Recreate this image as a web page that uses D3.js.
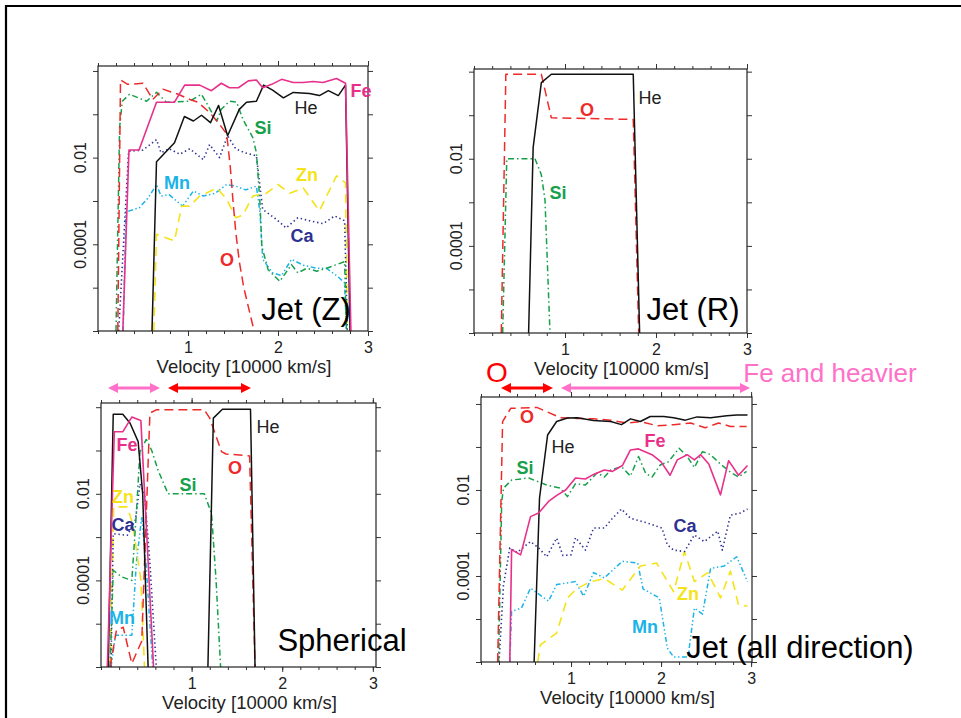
<!DOCTYPE html>
<html><head><meta charset="utf-8">
<script src="https://cdn.jsdelivr.net/npm/d3@7"></script>
<style>
body{margin:0;background:#fff}
svg{display:block;font-family:"Liberation Sans",Arial,Helvetica,sans-serif}
</style>
</head><body>
<svg id="chart" width="961" height="718"></svg>
<script>
// Mass fraction vs velocity, [velocity (10^4 km/s), mass fraction]; null breaks a line.

// --- Jet (Z) ---
const jetZ_He = [[0.60,1e-6],[0.65,0.008],[0.85,0.022],[0.96,0.089],[1.06,0.07],[1.15,0.095],[1.25,0.064],[1.34,0.16],[1.44,0.032],[1.57,0.13],[1.65,0.19],[1.76,0.2],[1.84,0.47],[1.94,0.36],[2.06,0.24],[2.17,0.32],[2.35,0.3],[2.46,0.27],[2.56,0.35],[2.67,0.27],[2.75,0.47],[2.80,1e-6]];
const jetZ_Fe = [[0.276,1e-6],[0.344,0.015],[0.456,0.015],[0.65,0.19],[0.85,0.19],[0.963,0.47],[1.13,0.47],[1.26,0.35],[1.37,0.52],[1.46,0.41],[1.56,0.41],[1.67,0.59],[1.76,0.62],[1.83,0.41],[1.93,0.49],[2.04,0.64],[2.17,0.54],[2.28,0.54],[2.39,0.57],[2.5,0.54],[2.65,0.67],[2.75,0.52],[2.81,1e-6]];
const jetZ_O  = [[0.22,1e-6],[0.25,0.62],[0.33,0.49],[0.5,0.52],[0.61,0.22],[0.72,0.38],[0.89,0.29],[1.02,0.22],[1.11,0.19],[1.24,0.11],[1.35,0.059],[1.43,0.035],[1.47,0.006],[1.5,0.001],[1.53,2e-4],[1.57,4e-5],[1.62,1e-5],[1.68,3e-6],[1.73,1.1e-6]];
const jetZ_Si = [[0.2,1e-6],[0.24,0.05],[0.27,0.2],[0.35,0.29],[0.54,0.2],[0.65,0.32],[0.76,0.19],[1.02,0.2],[1.15,0.29],[1.32,0.07],[1.37,0.13],[1.46,0.2],[1.54,0.19],[1.61,0.077],[1.72,0.029],[1.76,0.013],[1.8,9e-4],[1.82,9e-5],[1.89,2.6e-5],[2.02,1.4e-5],[2.15,3.4e-5],[2.22,2.2e-5],[2.32,2.8e-5],[2.43,2.4e-5],[2.54,2.8e-5],[2.65,3.4e-5],[2.74,4e-5],[2.76,1e-6]];
const jetZ_Ca = [[0.23,1e-6],[0.34,0.014],[0.5,0.015],[0.65,0.026],[0.7,0.013],[0.79,0.016],[0.91,0.012],[1.02,0.016],[1.17,0.009],[1.24,0.02],[1.35,0.01],[1.44,0.032],[1.53,0.016],[1.63,0.013],[1.76,0.011],[1.83,6.4e-4],[1.98,3.8e-4],[2.09,2.4e-4],[2.22,4.1e-4],[2.35,3.5e-4],[2.5,3e-4],[2.63,4.5e-4],[2.74,3.5e-4],[2.77,1e-6]];
const jetZ_Mn = [[0.28,1e-6],[0.31,5.9e-4],[0.35,5.9e-4],[0.46,7e-4],[0.56,1.2e-3],[0.65,2.4e-3],[0.7,1.3e-3],[0.79,1.4e-3],[0.94,7.6e-4],[1.06,1.7e-3],[1.17,1.3e-3],[1.3,1.5e-3],[1.43,2.4e-3],[1.53,2.2e-3],[1.64,1.8e-3],[1.76,2.2e-3],[1.8,5.4e-4],[1.83,4.5e-5],[1.94,2.2e-5],[2.04,1.9e-5],[2.15,4.5e-5],[2.28,3.3e-5],[2.43,2.8e-5],[2.54,2.8e-5],[2.65,1.9e-5],[2.74,1.3e-5],[2.76,1e-6]];
const jetZ_Zn = [[0.62,1e-6],[0.65,1.7e-4],[0.85,1.2e-4],[0.93,7.6e-4],[1.02,7.6e-4],[1.13,1.3e-3],[1.2,1.5e-3],[1.32,2e-3],[1.43,1.1e-3],[1.53,4.1e-4],[1.61,4.7e-4],[1.72,1.3e-3],[1.87,1.5e-3],[2.0,2.4e-3],[2.13,1.5e-3],[2.28,2e-3],[2.46,5.9e-4],[2.65,3.8e-3],[2.75,2.6e-3],[2.77,1e-6]];

// --- Jet (R) ---
const jetR_He = [[0.6,1e-6],[0.65,0.018],[0.74,0.56],[0.85,0.87],[1.75,0.87],[1.82,1e-6]];
const jetR_O  = [[0.30,1e-6],[0.35,0.87],[0.74,0.87],[0.85,0.087],[1.75,0.08],[1.81,1e-6]];
const jetR_Si = [[0.315,1e-6],[0.36,0.01],[0.67,0.01],[0.74,0.0043],[0.78,0.00115],[0.805,4.9e-5],[0.835,1e-6]];

// --- Spherical ---
const sph_He = [[0.08,1e-6],[0.135,0.69],[0.24,0.69],[0.32,0.43],[0.41,0.16],[0.46,0.01],[0.52,1e-6],null,[1.18,1e-6],[1.24,0.56],[1.34,0.9],[1.65,0.9],[1.7,1e-6]];
const sph_Fe = [[0.07,1e-6],[0.147,0.27],[0.24,0.27],[0.34,0.59],[0.44,0.49],[0.58,1e-6]];
const sph_O  = [[0.1,1e-6],[0.17,7e-6],[0.245,8.3e-6],[0.34,1.2e-6],[0.45,4e-6],[0.5,3.5e-3],[0.54,0.73],[0.61,0.87],[1.14,0.87],[1.2,0.56],[1.33,0.094],[1.38,0.083],[1.64,0.075],[1.7,1e-6]];
const sph_Si = [[0.1,1e-6],[0.135,1.7e-4],[0.23,1.2e-4],[0.34,1e-4],[0.39,3.5e-3],[0.43,0.094],[0.5,0.18],[0.56,0.1],[0.63,0.035],[0.74,0.01],[1.14,0.01],[1.22,3.5e-3],[1.27,1e-4],[1.32,1e-6]];
const sph_Ca = [[0.11,1e-6],[0.135,1.2e-3],[0.29,1.1e-3],[0.38,2.5e-3],[0.43,0.017],[0.48,0.01],[0.54,2.5e-4],[0.61,1e-6]];
const sph_Zn = [[0.1,1e-6],[0.14,5e-3],[0.29,5e-3],[0.35,2e-3],[0.44,1e-4],[0.48,1e-6]];
const sph_Mn = [[0.11,1e-6],[0.16,5.4e-6],[0.34,5.4e-6],[0.39,2.5e-4],[0.45,3e-3],[0.5,2e-4],[0.57,1e-6]];

// --- Jet (all direction) ---
const jetAll_He = [[0.59,1e-6],[0.65,0.0065],[0.74,0.19],[0.84,0.39],[0.96,0.47],[1.07,0.48],[1.25,0.41],[1.44,0.39],[1.56,0.33],[1.66,0.45],[1.77,0.39],[1.88,0.51],[2.03,0.51],[2.14,0.48],[2.27,0.42],[2.4,0.5],[2.55,0.48],[2.73,0.53],[2.84,0.55],[2.96,0.55]];
const jetAll_O  = [[0.185,1e-6],[0.24,0.39],[0.33,0.79],[0.62,0.83],[0.73,0.66],[0.88,0.48],[1.07,0.46],[1.25,0.45],[1.44,0.42],[1.62,0.36],[1.77,0.39],[1.96,0.31],[2.14,0.33],[2.33,0.36],[2.49,0.28],[2.64,0.36],[2.77,0.3],[2.95,0.3]];
const jetAll_Si = [[0.195,1e-6],[0.23,0.0054],[0.25,0.011],[0.34,0.017],[0.53,0.019],[0.73,0.013],[0.88,0.011],[0.96,0.007],[1.05,0.014],[1.16,0.013],[1.29,0.025],[1.37,0.02],[1.44,0.029],[1.56,0.035],[1.66,0.021],[1.75,0.06],[1.83,0.024],[1.9,0.02],[1.99,0.038],[2.08,0.045],[2.2,0.093],[2.29,0.06],[2.37,0.033],[2.46,0.078],[2.55,0.066],[2.66,0.04],[2.77,0.026],[2.86,0.02],[2.95,0.027]];
const jetAll_Fe = [[0.32,1e-6],[0.34,4.1e-4],[0.44,3.1e-4],[0.55,0.0024],[0.64,0.0029],[0.75,0.0054],[0.85,0.0077],[0.94,0.01],[1.05,0.019],[1.16,0.018],[1.25,0.023],[1.37,0.029],[1.46,0.027],[1.57,0.037],[1.66,0.085],[1.75,0.09],[1.9,0.066],[2.0,0.045],[2.1,0.022],[2.18,0.05],[2.29,0.066],[2.37,0.05],[2.44,0.066],[2.53,0.04],[2.66,0.0077],[2.75,0.048],[2.86,0.022],[2.96,0.037]];
const jetAll_Ca = [[0.2,1e-6],[0.25,6.2e-5],[0.32,4.5e-4],[0.4,3.5e-4],[0.55,6.3e-4],[0.64,4.5e-4],[0.73,2.8e-4],[0.84,7.6e-4],[0.91,3e-4],[1.0,3.1e-4],[1.05,7.8e-4],[1.16,4e-4],[1.25,1.3e-3],[1.37,1.3e-3],[1.46,2.2e-3],[1.56,3.6e-3],[1.66,2.2e-3],[1.85,1.7e-3],[2.01,1.3e-3],[2.07,5.3e-4],[2.14,4e-4],[2.26,3.7e-4],[2.37,9e-4],[2.48,6.3e-4],[2.63,1.1e-3],[2.68,4e-4],[2.77,2.6e-3],[2.88,2.9e-3],[2.96,3.6e-3]];
const jetAll_Mn = [[0.32,1e-6],[0.34,1.5e-5],[0.45,1.8e-5],[0.55,5.2e-5],[0.75,2.6e-5],[0.84,6.3e-5],[1.05,7.4e-5],[1.14,3.4e-5],[1.25,1.2e-4],[1.37,9e-5],[1.57,2.2e-4],[1.74,2e-4],[1.8,5e-5],[1.98,3.1e-5],[2.07,2.1e-6],[2.14,1.3e-6],[2.3,1.3e-6],[2.37,1.8e-5],[2.46,1.3e-5],[2.55,1.5e-4],[2.7,1.7e-4],[2.84,2.8e-4],[2.96,7.4e-5]];
const jetAll_Zn = [[0.63,1e-6],[0.66,2.5e-6],[0.84,4.7e-6],[0.96,3.1e-5],[1.07,5.2e-5],[1.22,7.4e-5],[1.37,8.7e-5],[1.57,4.7e-5],[1.77,1.7e-4],[1.95,2e-4],[2.14,4.3e-5],[2.26,3.7e-4],[2.37,7.4e-5],[2.52,1.2e-4],[2.66,3.1e-5],[2.77,1.3e-4],[2.86,2.1e-5],[2.96,2e-5]];

// Axis ticks
const yTickValues = [1, 0.1, 0.01, 0.001, 1e-4, 1e-5, 1e-6];
const yTickLabels = {"0.01": "0.01", "0.0001": "0.0001"};
const xMajorTicks = [1, 2, 3];
const xMinorTicks = d3.range(0, 16).map(i => +(i * 0.2).toFixed(1));
const xTitle = "Velocity [10000 km/s]";

// Line styles per element
const style = {
  He: {color: "#111111", dash: null, w: 1.5},
  O:  {color: "#ee2b2b", dash: "9,5", w: 1.5},
  Si: {color: "#16a04b", dash: "6,3,1.5,3", w: 1.5},
  Ca: {color: "#2e3192", dash: "1.4,2.8", w: 1.6},
  Mn: {color: "#1ab4e8", dash: "5,2.5,1.4,2.5,1.4,2.5", w: 1.5},
  Zn: {color: "#f5e31a", dash: "9,6", w: 1.6},
  Fe: {color: "#e8308a", dash: null, w: 1.6}
};
const drawOrder = ["Mn", "Zn", "Ca", "Si", "O", "He", "Fe"];

const panels = [
  {title: "Jet (Z)", left: 98, right: 368, xMax: 3, top: 66, bottom: 331, yMax: 1.3,
   series: {He: jetZ_He, Fe: jetZ_Fe, O: jetZ_O, Si: jetZ_Si, Ca: jetZ_Ca, Mn: jetZ_Mn, Zn: jetZ_Zn},
   labels: [["Fe", 361, 91], ["He", 306, 108], ["Si", 263, 128], ["Zn", 307, 175], ["Mn", 177, 183], ["Ca", 302, 236], ["O", 227, 260]],
   titlePos: [306, 309]},
  {title: "Jet (R)", left: 474, right: 747, xMax: 3, top: 69, bottom: 333, yMax: 1.15,
   series: {He: jetR_He, O: jetR_O, Si: jetR_Si},
   labels: [["He", 650, 98], ["O", 587, 110], ["Si", 558, 193]],
   titlePos: [693, 309]},
  {title: "Spherical", left: 101, right: 376, xMax: 3.035, top: 403, bottom: 667, yMax: 1.25,
   series: {He: sph_He, Fe: sph_Fe, O: sph_O, Si: sph_Si, Ca: sph_Ca, Zn: sph_Zn, Mn: sph_Mn},
   labels: [["He", 268, 427], ["Fe", 127, 445], ["Si", 188, 485], ["O", 235, 468], ["Zn", 123, 497], ["Ca", 123, 525], ["Mn", 122, 618]],
   titlePos: [342, 640]},
  {title: "Jet (all direction)", left: 481, right: 752, xMax: 3.01, top: 397, bottom: 662, yMax: 1.45,
   series: {He: jetAll_He, O: jetAll_O, Si: jetAll_Si, Fe: jetAll_Fe, Ca: jetAll_Ca, Mn: jetAll_Mn, Zn: jetAll_Zn},
   labels: [["O", 527, 417], ["He", 563, 447], ["Fe", 655, 441], ["Si", 525, 468], ["Ca", 685, 526], ["Zn", 688, 594], ["Mn", 645, 627]],
   titlePos: [800, 647]}
];

const svg = d3.select("#chart");

// outer page frame (top and left edges)
svg.append("path").attr("d", "M6,718V6H961")
  .attr("fill", "none").attr("stroke", "#000").attr("stroke-width", 2.2);

panels.forEach((p, i) => {
  const x = d3.scaleLinear().domain([0, p.xMax]).range([p.left, p.right]);
  const y = d3.scaleLog().domain([1e-6, p.yMax]).range([p.bottom, p.top]);
  const g = svg.append("g");

  const clipId = "clip" + i;
  svg.append("defs").append("clipPath").attr("id", clipId)
    .append("rect").attr("x", p.left).attr("y", p.top)
    .attr("width", p.right - p.left).attr("height", p.bottom - p.top);

  // tick marks on all four sides, pointing outward
  const tickStyle = sel => {
    sel.select(".domain").remove();
    sel.selectAll(".tick line").attr("stroke", "#333").attr("stroke-width", 1);
  };
  g.append("g").attr("transform", `translate(0,${p.bottom})`)
    .call(d3.axisBottom(x).tickValues(xMinorTicks).tickSize(3).tickFormat(""))
    .call(tickStyle);
  g.append("g").attr("transform", `translate(0,${p.top})`)
    .call(d3.axisTop(x).tickValues(xMinorTicks).tickSize(3).tickFormat(""))
    .call(tickStyle);
  g.append("g").attr("transform", `translate(0,${p.bottom})`)
    .call(d3.axisBottom(x).tickValues(xMajorTicks).tickSize(5).tickPadding(6).tickFormat(d3.format("d")))
    .call(tickStyle)
    .call(s => s.selectAll("text").attr("font-size", 16).attr("fill", "#222")
      .attr("font-family", '"Liberation Sans",Arial,sans-serif'));
  g.append("g").attr("transform", `translate(0,${p.top})`)
    .call(d3.axisTop(x).tickValues(xMajorTicks).tickSize(5).tickFormat(""))
    .call(tickStyle);
  g.append("g").attr("transform", `translate(${p.left},0)`)
    .call(d3.axisLeft(y).tickValues(yTickValues).tickSize(5).tickFormat(""))
    .call(tickStyle);
  g.append("g").attr("transform", `translate(${p.right},0)`)
    .call(d3.axisRight(y).tickValues(yTickValues).tickSize(5).tickFormat(""))
    .call(tickStyle);

  // rotated y tick labels
  [0.01, 1e-4].forEach(v => {
    const label = v === 0.01 ? yTickLabels["0.01"] : yTickLabels["0.0001"];
    g.append("text")
      .attr("transform", `translate(${p.left - 12},${y(v)}) rotate(-90)`)
      .attr("text-anchor", "middle").attr("font-size", 16).attr("fill", "#222")
      .text(label);
  });

  // x axis title
  g.append("text").attr("x", (p.left + p.right) / 2 + 11).attr("y", p.bottom + 42)
    .attr("text-anchor", "middle").attr("font-size", 18.5).attr("fill", "#222")
    .text(xTitle);

  // abundance curves
  const line = d3.line().defined(d => d !== null)
    .x(d => x(d[0])).y(d => y(d[1]));
  const lines = g.append("g").attr("clip-path", `url(#${clipId})`);
  drawOrder.forEach(el => {
    const data = p.series[el];
    if (!data) return;
    const s = style[el];
    lines.append("path").datum(data)
      .attr("d", line)
      .attr("fill", "none")
      .attr("stroke", s.color)
      .attr("stroke-width", s.w)
      .attr("stroke-linejoin", "round")
      .attr("stroke-dasharray", s.dash);
  });

  // plot frame
  g.append("rect").attr("x", p.left).attr("y", p.top)
    .attr("width", p.right - p.left).attr("height", p.bottom - p.top)
    .attr("fill", "none").attr("stroke", "#222").attr("stroke-width", 1.2);

  // element labels
  p.labels.forEach(([el, lx, ly]) => {
    g.append("text").attr("x", lx).attr("y", ly)
      .attr("text-anchor", "middle").attr("dominant-baseline", "central")
      .attr("font-size", 18)
      .attr("font-weight", el === "He" ? "normal" : "bold")
      .attr("fill", el === "He" ? "#222" : style[el].color)
      .text(el);
  });

  // panel title
  g.append("text").attr("x", p.titlePos[0]).attr("y", p.titlePos[1])
    .attr("text-anchor", "middle").attr("dominant-baseline", "central")
    .attr("font-size", 31).attr("fill", "#000")
    .text(p.title);
});

// velocity-range arrows
const arrows = [
  {x1: 108, x2: 160, y: 388, color: "#ff70c8"},
  {x1: 168, x2: 251, y: 388, color: "#ff0000"},
  {x1: 501, x2: 553, y: 388, color: "#ff0000"},
  {x1: 561, x2: 750, y: 388, color: "#ff70c8"}
];
arrows.forEach(a => {
  const h = 10, w = 5;
  svg.append("line").attr("x1", a.x1 + h - 1).attr("x2", a.x2 - h + 1)
    .attr("y1", a.y).attr("y2", a.y)
    .attr("stroke", a.color).attr("stroke-width", 3.2);
  svg.append("path")
    .attr("d", `M${a.x1},${a.y}L${a.x1 + h},${a.y - w}L${a.x1 + h},${a.y + w}Z` +
               `M${a.x2},${a.y}L${a.x2 - h},${a.y - w}L${a.x2 - h},${a.y + w}Z`)
    .attr("fill", a.color);
});

svg.append("text").attr("x", 497).attr("y", 372)
  .attr("text-anchor", "middle").attr("dominant-baseline", "central")
  .attr("font-size", 28).attr("fill", "#ff0000").text("O");
svg.append("text").attr("x", 830).attr("y", 373)
  .attr("text-anchor", "middle").attr("dominant-baseline", "central")
  .attr("font-size", 26).attr("fill", "#ff70c8").text("Fe and heavier");
</script>
</body></html>
